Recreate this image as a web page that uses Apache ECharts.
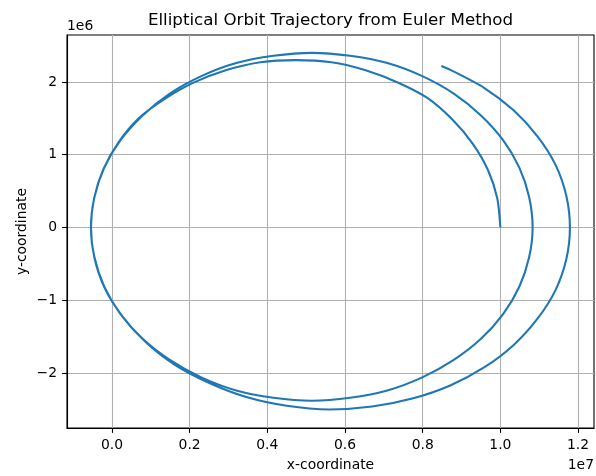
<!DOCTYPE html>
<html>
<head>
<meta charset="utf-8">
<script src="https://cdn.jsdelivr.net/npm/echarts@6/dist/echarts.min.js"></script>
<style>
  html, body { margin: 0; padding: 0; background: #fff; }
  #chart { width: 596px; height: 476px; }
</style>
</head>
<body>
<div id="chart"></div>
<script>
// Orbit path, in millions of metres, in the order the integrator visits it
const orbitX = [
  // first pass over the top
  10.00, 9.92, 9.68, 9.29, 8.77, 8.12, 7.37, 6.53, 5.65, 4.73, 3.82, 2.93, 2.10, 1.34, 0.69, 0.17, -0.22, -0.46,
  // first pass underneath
  -0.54, -0.45, -0.20, 0.22, 0.79, 1.49, 2.30, 3.20, 4.16, 5.15, 6.13, 7.09, 7.99, 8.80, 9.50, 10.07, 10.49, 10.74,
  // second pass over the top
  10.83, 10.74, 10.49, 10.07, 9.50, 8.80, 7.99, 7.09, 6.13, 5.15, 4.16, 3.20, 2.30, 1.49, 0.79, 0.22, -0.20, -0.45,
  // second pass underneath
  -0.54, -0.45, -0.18, 0.27, 0.86, 1.60, 2.48, 3.46, 4.50, 5.60, 6.70, 7.73, 8.71, 9.59, 10.35, 10.96, 11.42, 11.70,
  // final partial arc
  11.79, 11.70, 11.42, 10.96, 10.34, 9.58, 8.70, 8.48
];
const orbitY = [
  0.00, 0.40, 0.79, 1.15, 1.48, 1.78, 1.99, 2.16, 2.27, 2.30, 2.27, 2.16, 1.99, 1.76, 1.50, 1.17, 0.80, 0.40,
  0.00, -0.41, -0.81, -1.19, -1.53, -1.82, -2.06, -2.24, -2.34, -2.38, -2.34, -2.24, -2.06, -1.82, -1.53, -1.19, -0.81, -0.41,
  0.00, 0.42, 0.82, 1.20, 1.54, 1.84, 2.08, 2.26, 2.36, 2.40, 2.36, 2.26, 2.08, 1.84, 1.54, 1.20, 0.82, 0.42,
  0.00, -0.42, -0.84, -1.22, -1.57, -1.88, -2.13, -2.33, -2.45, -2.50, -2.46, -2.35, -2.17, -1.92, -1.61, -1.25, -0.86, -0.43,
  0.00, 0.43, 0.86, 1.25, 1.61, 1.92, 2.17, 2.22
];
const UNIT = 1e6;

// Axis ticks (metres) and view limits
const xTicks = [0, 2e6, 4e6, 6e6, 8e6, 10e6, 12e6];
const yTicks = [-2e6, -1e6, 0, 1e6, 2e6];
const xLimits = [-1.157e6, 12.41e6];
const yLimits = [-2.755e6, 2.645e6];

const FONT = '"DejaVu Sans", sans-serif';
const TICK_PX = 13.9;

const points = orbitX.map((x, i) => [x * UNIT, orbitY[i] * UNIT]);

const chart = echarts.init(document.getElementById('chart'), null, { renderer: 'canvas' });

chart.setOption({
  animation: false,
  backgroundColor: '#ffffff',
  grid: {
    left: 67, right: 2, top: 35, bottom: 48,
    show: true, borderColor: '#000000', borderWidth: 1.1, backgroundColor: 'transparent'
  },
  xAxis: {
    type: 'value',
    min: xLimits[0], max: xLimits[1],
    axisLine: { show: true, onZero: false, lineStyle: { color: '#000', width: 1.1 } },
    axisTick: { show: true, inside: false, length: 4.9, customValues: xTicks, lineStyle: { color: '#000', width: 1.1 } },
    axisLabel: {
      customValues: xTicks, margin: 10, color: '#000', fontFamily: FONT, fontSize: TICK_PX,
      formatter: v => (v / 1e7).toFixed(1)
    },
    splitLine: { show: true, lineStyle: { color: '#b0b0b0', width: 1.1 } }
  },
  yAxis: {
    type: 'value',
    min: yLimits[0], max: yLimits[1],
    axisLine: { show: true, onZero: false, lineStyle: { color: '#000', width: 1.1 } },
    axisTick: { show: true, inside: false, length: 4.9, customValues: yTicks, lineStyle: { color: '#000', width: 1.1 } },
    axisLabel: {
      customValues: yTicks, margin: 10, color: '#000', fontFamily: FONT, fontSize: TICK_PX,
      formatter: v => {
        const n = Math.round(v / 1e6);
        return n < 0 ? '\u2212' + Math.abs(n) : String(n);
      }
    },
    splitLine: { show: true, lineStyle: { color: '#b0b0b0', width: 1.1 } }
  },
  series: [{
    type: 'line',
    data: points,
    showSymbol: false,
    smooth: 0.25,
    smoothMonotone: 'none',
    lineStyle: { color: '#1f77b4', width: 2.1 },
    z: 5
  }],
  graphic: [
    { type: 'text', x: 330.5, y: 21, style: { text: 'Elliptical Orbit Trajectory from Euler Method', fill: '#000', font: '16.7px ' + FONT, align: 'center', verticalAlign: 'middle' } },
    { type: 'text', x: 67, y: 26, style: { text: '1e6', fill: '#000', font: TICK_PX + 'px ' + FONT, align: 'left', verticalAlign: 'middle' } },
    { type: 'text', x: 594, y: 465, style: { text: '1e7', fill: '#000', font: TICK_PX + 'px ' + FONT, align: 'right', verticalAlign: 'middle' } },
    { type: 'text', x: 330.5, y: 465, style: { text: 'x-coordinate', fill: '#000', font: TICK_PX + 'px ' + FONT, align: 'center', verticalAlign: 'middle' } },
    { type: 'text', x: 22, y: 231.5, rotation: Math.PI / 2, style: { text: 'y-coordinate', fill: '#000', font: TICK_PX + 'px ' + FONT, align: 'center', verticalAlign: 'middle' } }
  ]
});
</script>
</body>
</html>
